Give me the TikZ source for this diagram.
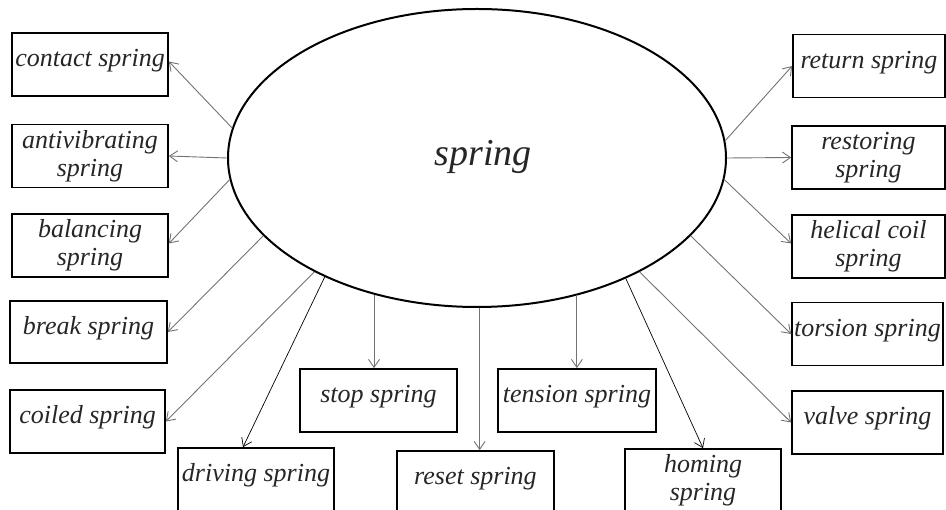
\documentclass[tikz,border=0pt]{standalone}
\usepackage{fontspec}
\setmainfont{Liberation Serif}
\usetikzlibrary{shapes.geometric,arrows.meta}
\begin{document}
\begin{tikzpicture}[x=1pt,y=-1pt,
  boxbase/.style={draw=black,line width=1.7pt,rectangle,inner sep=0pt,
    minimum width=156pt,minimum height=63pt,align=center,
    font=\fontsize{26}{28}\selectfont\itshape,text=black!85},
  box/.style={boxbase,text height=0.7em,text depth=0.22em},
  box2/.style={boxbase},
  arr/.style={draw=black!55,line width=0.9pt,-{Straight Barb[length=8pt,width=11pt]}},
  darr/.style={draw=black,line width=0.7pt,-{Straight Barb[length=8pt,width=11pt]}}]
\useasboundingbox (0,0) rectangle (946,510);
% central ellipse
\node[ellipse,draw=black,line width=2pt,inner sep=0pt,
  minimum width=498pt,minimum height=298pt] (sp) at (477,158) {};
\node[font=\fontsize{38}{40}\selectfont\itshape,text=black!85,inner sep=0pt] (splabel) at (483,157) {spring};
% left column
\node[box] (contact) at (90,64.5) {contact spring};
\node[box2] (antivib) at (90,156) {antivibrating\\spring};
\node[box2] (balancing) at (90,245.5) {balancing\\spring};
\node[box,minimum width=157pt,minimum height=62pt] (brk) at (88.5,332) {break spring};
\node[box,minimum width=155pt] (coiled) at (87.5,421.5) {coiled spring};
% bottom row
\node[box] (driving) at (256,479.5) {driving spring};
\node[box,minimum width=157pt] (stop) at (378.5,400.5) {stop spring};
\node[box,minimum width=158pt] (tension) at (577,400.5) {tension spring};
\node[box,minimum width=157pt] (reset) at (475.5,482.5) {reset spring};
\node[box2] (homing) at (703,480.5) {homing\\spring};
% right column
\node[box,minimum width=152pt] (return) at (869,66) {return spring};
\node[box2,minimum width=153pt] (restoring) at (868.5,157.5) {restoring\\spring};
\node[box2,minimum width=153pt] (helical) at (868.5,246.5) {helical coil\\spring};
\node[box,minimum width=151pt] (torsion) at (867.5,334) {torsion spring};
\node[box,minimum width=151pt] (valve) at (867.5,422.5) {valve spring};
% connectors
\draw[arr] (sp.173) -- ([yshift=3pt]contact.east);
\draw[arr] (sp.180) -- (antivib.east);
\draw[arr] (sp.185.8) -- ([yshift=2pt]balancing.east);
\draw[arr] (sp.200.2) -- (brk.east);
\draw[arr] (sp.215) -- (coiled.east);
\draw[darr] (sp.218.9) -- ([xshift=-13pt]driving.north);
\draw[arr] (sp.233.1) -- (sp.233.1 |- stop.north);
\draw[arr] (sp.271.2) -- (sp.271.2 |- reset.north);
\draw[arr] (sp.306.6) -- (sp.306.6 |- tension.north);
\draw[darr] (sp.321.4) -- (homing.north);
\draw[arr] (sp.325.3) -- (valve.west);
\draw[arr] (sp.340.1) -- (torsion.west);
\draw[arr] (sp.355) -- ([yshift=3pt]helical.west);
\draw[arr] (sp.0) -- (restoring.west);
\draw[arr] (sp.4.8) -- (return.west);
\end{tikzpicture}
\end{document}
